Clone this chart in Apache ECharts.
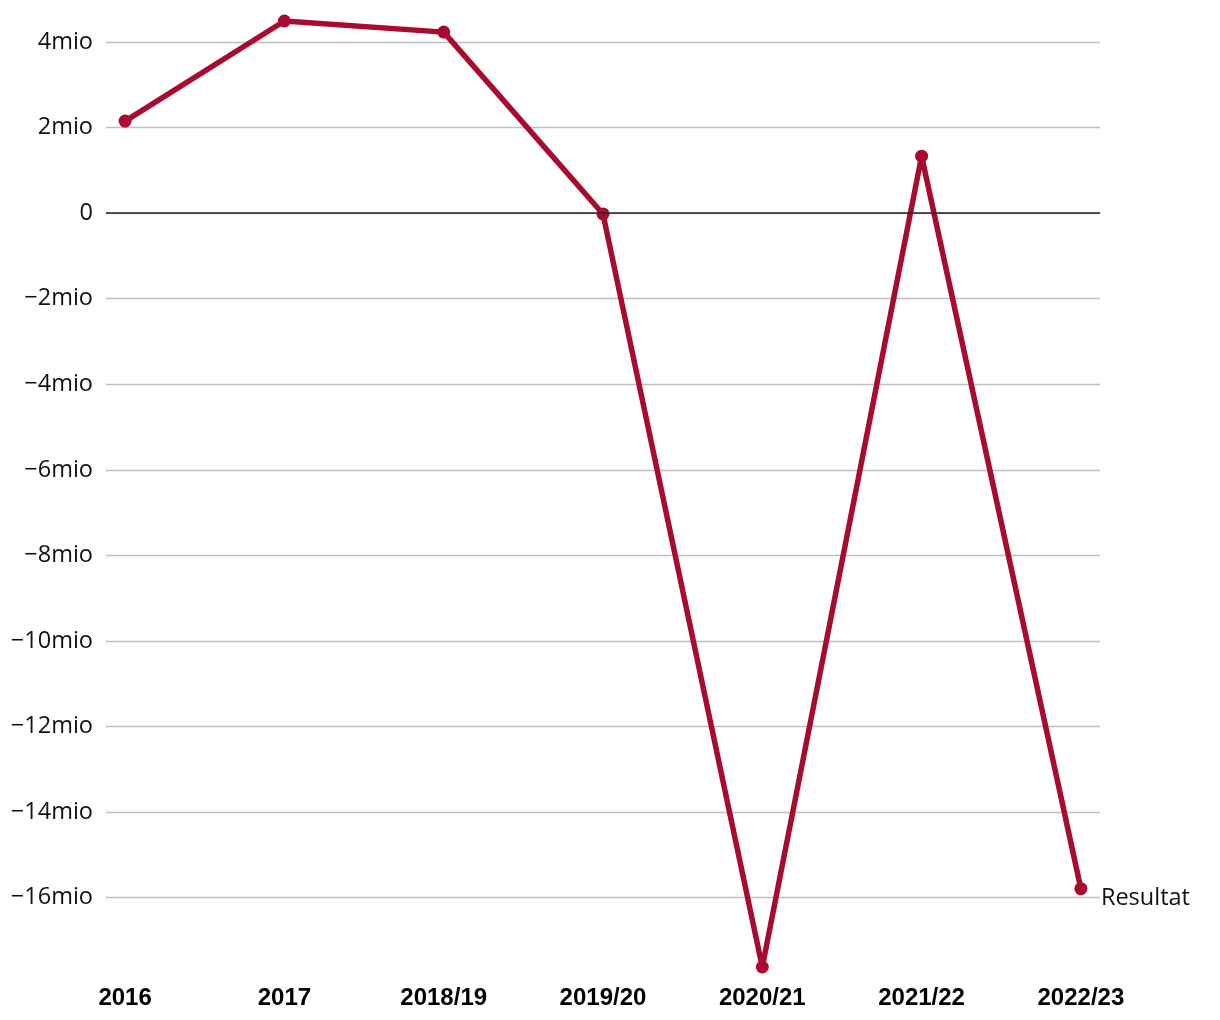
<!DOCTYPE html>
<html>
<head>
<meta charset="utf-8">
<script src="https://cdn.jsdelivr.net/npm/echarts@6/dist/echarts.min.js"></script>
<style>
  html, body { margin: 0; padding: 0; background: #fff; }
  #chart { width: 1220px; height: 1020px; }
</style>
</head>
<body>
<div id="chart"></div>
<script>
// Sesonger og resultat (mio)
const categories = ['2016', '2017', '2018/19', '2019/20', '2020/21', '2021/22', '2022/23']
const resultat = [2.15, 4.49, 4.23, -0.02, -17.62, 1.33, -15.79]
const yTicks = [-16, -14, -12, -10, -8, -6, -4, -2, 0, 2, 4]

const chart = echarts.init(document.getElementById('chart'))

function mioLabel(v) {
  if (v === 0) return '0'
  return (v < 0 ? '\u2212' : '') + Math.abs(v) + 'mio'
}

const option = {
  animation: false,
  grid: { left: 106, right: 120, top: 21, bottom: 53 },
  xAxis: {
    type: 'value',
    min: -0.12,
    max: 6.12,
    splitLine: { show: false },
    axisLine: { show: false },
    axisTick: { show: false },
    axisLabel: {
      customValues: categories.map((c, i) => i),
      formatter: v => categories[Math.round(v)],
      margin: 19,
      color: '#000',
      fontFamily: 'Liberation Sans',
      fontWeight: 'bold',
      fontSize: 24
    }
  },
  yAxis: {
    type: 'value',
    min: Math.min(...resultat),
    max: Math.max(...resultat),
    axisLine: { show: false },
    axisTick: { show: false, customValues: yTicks },
    axisLabel: {
      customValues: yTicks,
      formatter: mioLabel,
      margin: 13,
      padding: [4, 0, 0, 0],
      color: '#111',
      fontFamily: 'Open Sans',
      fontSize: 23.5
    },
    splitLine: {
      show: true,
      lineStyle: { color: '#bfbfbf', width: 1.3 }
    }
  },
  series: [
    {
      name: 'Resultat',
      type: 'line',
      data: resultat.map((v, i) => [i, v]),
      symbol: 'circle',
      symbolSize: 13,
      itemStyle: { color: '#a80a30' },
      lineStyle: { color: '#a80a30', width: 5.5 },
      endLabel: {
        show: true,
        formatter: 'Resultat',
        distance: 20,
        offset: [0, 10],
        color: '#111',
        fontFamily: 'Open Sans',
        fontSize: 23.5
      },
      markLine: {
        silent: true,
        symbol: 'none',
        label: { show: false },
        lineStyle: { color: '#222', width: 1.5, type: 'solid' },
        data: [{ yAxis: 0 }]
      }
    }
  ]
}

chart.setOption(option)
</script>
</body>
</html>
